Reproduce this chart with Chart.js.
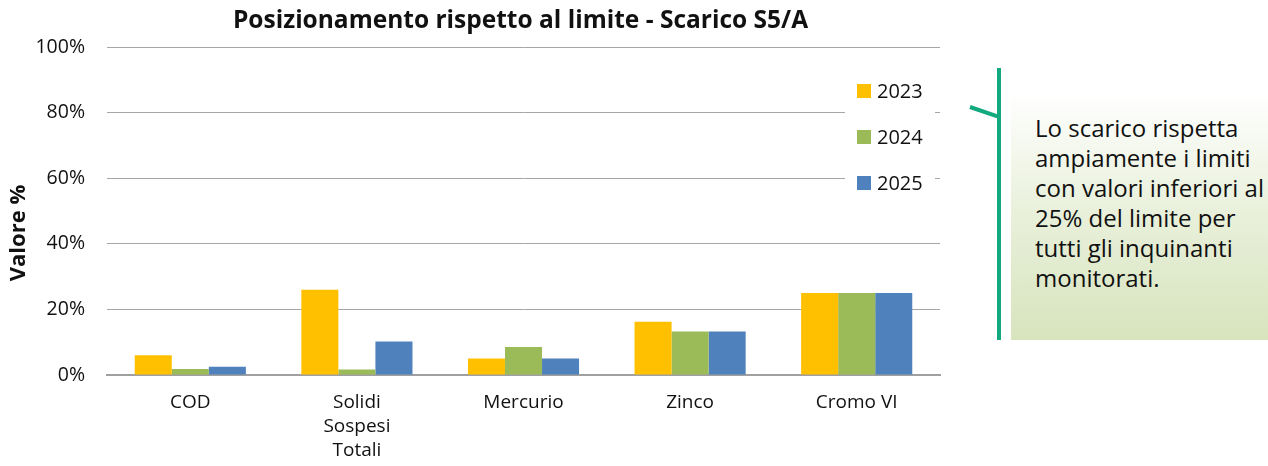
<!DOCTYPE html>
<html>
<head>
<meta charset="utf-8">
<script src="https://cdn.jsdelivr.net/npm/chart.js@4"></script>
<style>
  html, body { margin: 0; padding: 0; background: #fff; }
  body { width: 1268px; height: 466px; position: relative; overflow: hidden; font-family: "Open Sans", Lato, sans-serif; }
  #wrap { position: absolute; left: 0; top: 0; width: 955px; height: 466px; }
  #note-line { position: absolute; left: 997px; top: 68px; width: 4px; height: 272px; background: #12a97e; }
  #note-tick { position: absolute; left: 970px; top: 105px; width: 29px; height: 4px; background: #12a97e; transform: rotate(19deg); transform-origin: left center; }
  #note { position: absolute; left: 1011px; top: 92px; width: 257px; height: 248px;
          background: linear-gradient(to bottom, #ffffff 0%, #eaf1dd 45%, #d7e4bd 100%);
          box-sizing: border-box; padding: 21px 0 0 24px; font-size: 24px; line-height: 30px; color: #111; white-space: nowrap; }
</style>
</head>
<body>
<div id="wrap"><canvas id="chart"></canvas></div>
<div id="note-line"></div>
<div id="note-tick"></div>
<div id="note">Lo scarico rispetta<br>ampiamente i limiti<br>con valori inferiori al<br>25% del limite per<br>tutti gli inquinanti<br>monitorati.</div>
<script>
const categories = ['COD', ['Solidi', 'Sospesi', 'Totali'], 'Mercurio', 'Zinco', 'Cromo VI'];
const years = ['2023', '2024', '2025'];
const values2023 = [6.0, 26.0, 5.0, 16.2, 25.0];
const values2024 = [1.8, 1.7, 8.5, 13.3, 25.0];
const values2025 = [2.5, 10.2, 5.0, 13.3, 25.0];
const colors = ['#FFC000', '#9BBB59', '#4F81BD'];
const yTicks = [0, 20, 40, 60, 80, 100];

const fontFamily = '"Open Sans", Lato, sans-serif';
const titleText = 'Posizionamento rispetto al limite - Scarico S5/A';
const yTitleText = 'Valore %';

// titles and an in-plot legend, placed like the original
const overlays = {
    id: 'overlays',
    afterDatasetsDraw(chart) {
        const ctx = chart.ctx;
        const area = chart.chartArea;
        ctx.save();
        ctx.fillStyle = '#111';
        ctx.font = 'bold 24.5px ' + fontFamily;
        ctx.textAlign = 'center';
        ctx.textBaseline = 'middle';
        ctx.fillText(titleText, (area.left + area.right) / 2 - 3, 21);

        ctx.save();
        ctx.translate(19, 233);
        ctx.rotate(-Math.PI / 2);
        ctx.font = 'bold 22px ' + fontFamily;
        ctx.fillText(yTitleText, 0, 0);
        ctx.restore();

        const x0 = area.right - 95;
        ctx.textAlign = 'left';
        ctx.fillStyle = '#fff';
        ctx.fillRect(x0, 72, 90, 126);
        ctx.font = '20px ' + fontFamily;
        chart.data.datasets.forEach((ds, i) => {
            const y = 91 + i * 46;
            ctx.fillStyle = ds.backgroundColor;
            ctx.fillRect(x0 + 12, y - 7, 14, 14);
            ctx.fillStyle = '#111';
            ctx.fillText(ds.label, x0 + 32, y + 1);
        });
        ctx.restore();
    }
};

new Chart(document.getElementById('chart'), {
    type: 'bar',
    data: {
        labels: categories,
        datasets: [
            { label: years[0], data: values2023, backgroundColor: colors[0] },
            { label: years[1], data: values2024, backgroundColor: colors[1] },
            { label: years[2], data: values2025, backgroundColor: colors[2] }
        ]
    },
    options: {
        responsive: true,
        maintainAspectRatio: false,
        animation: false,
        layout: { padding: { left: 6, right: 15, top: 47, bottom: 3 } },
        datasets: { bar: { barPercentage: 1, categoryPercentage: 0.667 } },
        plugins: {
            legend: { display: false },
            tooltip: { enabled: false },
            title: { display: false }
        },
        scales: {
            x: {
                afterFit(scale) { scale.height = 88; },
                grid: { display: false },
                border: { color: '#a0a0a0', width: 2 },
                ticks: {
                    color: '#111',
                    font: { family: fontFamily, size: 19, lineHeight: 1.26 },
                    maxRotation: 0,
                    padding: 8
                }
            },
            y: {
                min: 0,
                max: 100,
                afterBuildTicks(scale) { scale.ticks = yTicks.map(v => ({ value: v })); },
                afterFit(scale) { scale.width = 101; },
                grid: { color: '#a6a6a6', lineWidth: 1, drawTicks: false },
                border: { display: false },
                ticks: {
                    color: '#111',
                    font: { family: fontFamily, size: 19.5 },
                    padding: 22,
                    callback: v => v + '%'
                }
            }
        }
    },
    plugins: [overlays]
});
</script>
</body>
</html>
